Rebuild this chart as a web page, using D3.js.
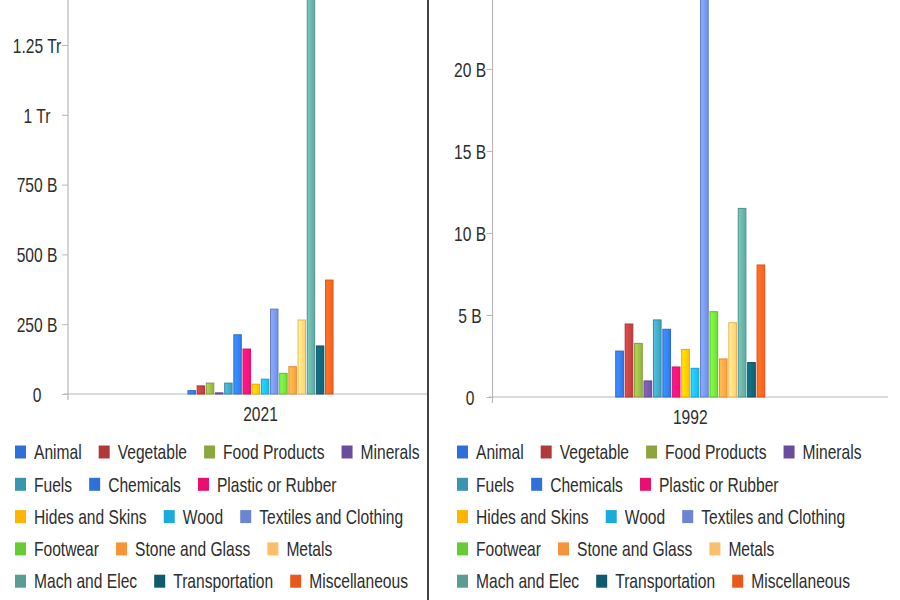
<!DOCTYPE html>
<html>
<head>
<meta charset="utf-8">
<script src="https://cdn.jsdelivr.net/npm/d3@7"></script>
<style>
  html, body { margin: 0; padding: 0; background: #fff; }
  svg { display: block; }
  text { font-family: "Liberation Sans", Arial, sans-serif; fill: #2d2d2d; }
</style>
</head>
<body>
<svg id="chart" width="900" height="600"></svg>
<script>
// ---------- data ----------
const categories = ["Animal", "Vegetable", "Food Products", "Minerals", "Fuels", "Chemicals",
  "Plastic or Rubber", "Hides and Skins", "Wood", "Textiles and Clothing", "Footwear",
  "Stone and Glass", "Metals", "Mach and Elec", "Transportation", "Miscellaneous"];
const colors = ["#2E6FD9", "#B03A3A", "#8BA63F", "#6B4C9A", "#3A96AE", "#2E72D9",
  "#E8106E", "#FFB400", "#1AAADC", "#6A86D0", "#66CC33",
  "#F7943A", "#F9BF6B", "#5A9D95", "#0F5A6C", "#E8591C"];
const years = ["2021", "1992"];
const values2021 = [12e9, 29e9, 39e9, 4e9, 39e9, 212e9, 161e9, 35e9, 53e9, 304e9, 74e9,
  98e9, 265e9, 1600e9, 172e9, 408e9];
const values1992 = [2.8e9, 4.45e9, 3.27e9, 0.98e9, 4.7e9, 4.13e9, 1.83e9, 2.9e9, 1.75e9, 30e9, 5.2e9,
  2.32e9, 4.53e9, 11.5e9, 2.1e9, 8.05e9];
const ticks2021 = [0, 250e9, 500e9, 750e9, 1000e9, 1250e9];
const tickLabels2021 = ["0", "250 B", "500 B", "750 B", "1 Tr", "1.25 Tr"];
const ticks1992 = [0, 5e9, 10e9, 15e9, 20e9];
const tickLabels1992 = ["0", "5 B", "10 B", "15 B", "20 B"];

// ---------- layout ----------
const svg = d3.select("#chart");
const SX = 0.78, FS = 20;
const defs = svg.append("defs");

// bar gradients
colors.forEach((c, i) => {
  const gr = defs.append("linearGradient").attr("id", "g" + i)
    .attr("x1", "0%").attr("x2", "100%").attr("y1", "0%").attr("y2", "0%");
  gr.append("stop").attr("offset", "0%").attr("stop-color", d3.color(c).brighter(0.75));
  gr.append("stop").attr("offset", "45%").attr("stop-color", d3.color(c).brighter(0.5));
  gr.append("stop").attr("offset", "100%").attr("stop-color", d3.color(c).brighter(0.2));
});

function drawPanel(opts) {
  const { year, values, ticks, labels, left, right, base, yTopVal, yTopPx, clipRight,
          labelX, legendX, legendMax } = opts;
  const id = "clip" + year;
  defs.append("clipPath").attr("id", id).append("rect")
    .attr("x", 0).attr("y", 0).attr("width", clipRight).attr("height", 600);
  const g = svg.append("g").attr("clip-path", `url(#${id})`);

  const y = d3.scaleLinear().domain([0, yTopVal]).range([base, yTopPx]);
  const x0 = d3.scaleBand().domain([year]).range([left, right]).padding(0.45);
  const x1 = d3.scaleBand().domain(categories).range([0, x0.bandwidth()]).paddingInner(0.08);

  // y axis
  const yAxis = d3.axisLeft(y).tickValues(ticks).tickSize(6).tickSizeOuter(0)
    .tickFormat((d, i) => labels[i]);
  const ya = g.append("g").attr("transform", `translate(${left},0)`).call(yAxis);
  ya.select(".domain").remove();
  ya.selectAll(".tick line").attr("stroke", "#b8b8b8");
  ya.selectAll(".tick text")
    .attr("x", 0).attr("dy", "0.36em")
    .attr("text-anchor", "middle")
    .attr("transform", `translate(${labelX - left},0) scale(${SX},1)`)
    .style("font-size", FS + "px").style("font-family", "'Liberation Sans', Arial, sans-serif")
    .attr("fill", "#2d2d2d");
  g.append("line").attr("x1", left).attr("x2", left).attr("y1", 0).attr("y2", base + 6)
    .attr("stroke", "#b8b8b8").attr("stroke-width", 1.2);

  // baseline
  g.append("line").attr("x1", left - 4).attr("x2", right).attr("y1", base).attr("y2", base)
    .attr("stroke", "#b8b8b8").attr("stroke-width", 1.2);

  // bars
  const data = categories.map((c, i) => ({ c, i, v: values[i] }));
  g.append("g").selectAll("rect").data(data).join("rect")
    .attr("x", d => x0(year) + x1(d.c) + 0.5)
    .attr("width", x1.bandwidth() - 1)
    .attr("y", d => y(d.v))
    .attr("height", d => y(0) - y(d.v))
    .attr("fill", d => `url(#g${d.i})`)
    .attr("stroke", d => d3.color(colors[d.i]).darker(0.2))
    .attr("stroke-width", 1);

  // x axis label
  const xAxis = d3.axisBottom(x0).tickSize(0);
  const xa = g.append("g").attr("transform", `translate(0,${base})`).call(xAxis);
  xa.select(".domain").remove();
  xa.selectAll(".tick text")
    .attr("y", 0).attr("dy", 0)
    .attr("transform", `translate(0,27) scale(${SX},1)`)
    .style("font-size", FS + "px").style("font-family", "'Liberation Sans', Arial, sans-serif")
    .attr("fill", "#2d2d2d");

  // legend (flow layout)
  const lg = svg.append("g");
  let cx = legendX, row = 0;
  const rowY0 = 452, rowH = 32.3, sw = 12, gapT = 7, gapItem = 17;
  categories.forEach((c, i) => {
    const t = lg.append("text").text(c)
      .style("font-size", FS + "px").attr("dy", "0.36em");
    const w = t.node().getComputedTextLength() * SX;
    if (cx > legendX && cx + sw + gapT + w > legendX + legendMax) { row++; cx = legendX; }
    const yy = rowY0 + row * rowH;
    lg.append("rect").attr("x", cx).attr("y", yy - 6.5).attr("width", sw - 1).attr("height", 13)
      .attr("fill", colors[i]);
    t.attr("transform", `translate(${cx + sw + gapT},${yy}) scale(${SX},1)`);
    cx += sw + gapT + w + gapItem;
  });
}

drawPanel({ year: years[0], values: values2021, ticks: ticks2021, labels: tickLabels2021,
  left: 68, right: 453, base: 394, yTopVal: 1250e9, yTopPx: 45, clipRight: 428,
  labelX: 37, legendX: 15, legendMax: 415 });

// panel separator
svg.append("line").attr("x1", 428).attr("x2", 428).attr("y1", 0).attr("y2", 600)
  .attr("stroke", "#111").attr("stroke-width", 1.6);

drawPanel({ year: years[1], values: values1992, ticks: ticks1992, labels: tickLabels1992,
  left: 492.5, right: 888, base: 397, yTopVal: 20e9, yTopPx: 69, clipRight: 900,
  labelX: 470, legendX: 457, legendMax: 420 });
</script>
</body>
</html>
